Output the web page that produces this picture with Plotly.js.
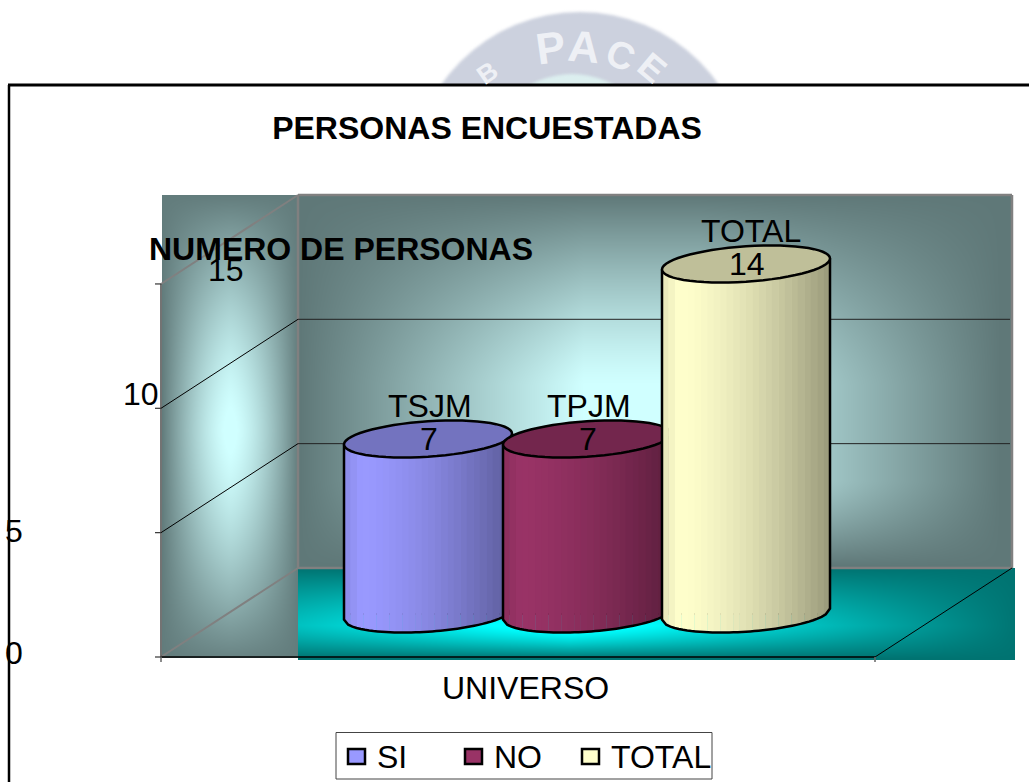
<!DOCTYPE html>
<html>
<head>
<meta charset="utf-8">
<script src="https://cdn.plot.ly/plotly-3.0.1.min.js"></script>
<style>html,body{margin:0;padding:0;background:#fff;overflow:hidden}#chart{width:1029px;height:782px}</style>
</head>
<body>
<div id="chart"></div>
<script>
// ---------- data ----------
var categories = ["UNIVERSO"];
var seriesNames = ["SI", "NO", "TOTAL"];
var seriesLabels = ["TSJM", "TPJM", "TOTAL"];
var seriesValues = [7, 7, 14];
var seriesColors = ["#9999FF", "#993366", "#FFFFCC"];
var tickValues = [0, 5, 10, 15];
var gridValues = [5, 10];
var chartTitle = "PERSONAS ENCUESTADAS";
var valueTitle = "NUMERO DE PERSONAS";

// ---------- page geometry ----------
var W = 1029, H = 782, ZERO = 614, UNIT = 25;
var WALL_UNIT = 24.87, FRONT0 = 657, BACK0 = 568;
var FX = 161, BX = 298, RX = 1011, FRX = 875;
var pxY = function (p) { return (ZERO - p) / UNIT; };
var paperX = function (p) { return p / W; };
var paperY = function (p) { return 1 - p / H; };

function hex(c) { return [parseInt(c.substr(1,2),16), parseInt(c.substr(3,2),16), parseInt(c.substr(5,2),16)]; }
function shade(c, f) { var r = hex(c); return "rgb(" + r.map(function (v) { return Math.round(v * f); }).join(",") + ")"; }

// ---------- painted backdrop ----------
function backdrop() {
  var cv = document.createElement("canvas"); cv.width = W; cv.height = H;
  var g = cv.getContext("2d");
  g.fillStyle = "#fff"; g.fillRect(0, 0, W, H);
  // seal behind the frame
  g.filter = "blur(1.5px)";
  g.fillStyle = "#ccd1de"; g.beginPath(); g.arc(580, 181, 169, 0, 7); g.fill();
  g.fillStyle = "#dcefef"; g.beginPath(); g.arc(572, 160, 86, 0, 7); g.fill();
  g.filter = "none";
  g.fillStyle = "#fff"; g.fillRect(9, 85, W, H);
  var im = g.getImageData(0, 0, W, H), d = im.data;
  function put(x, y, a, b, f) {
    f = Math.max(0, Math.min(1, f));
    var i = (y * W + x) * 4;
    for (var k = 0; k < 3; k++) d[i + k] = a[k] + (b[k] - a[k]) * f;
    d[i + 3] = 255;
  }
  function fall(t) { return Math.max(0, 1 - Math.pow(Math.min(1, t), 1.3)); }
  var dark = [95, 120, 120], light = [208, 255, 255], fd = [0, 112, 110], fl = [0, 255, 255];
  for (var y = 195; y < 660; y++) {
    for (var x = 162; x < 1015; x++) {
      var tx, ty, f;
      if (x < BX) {
        if (y > 657) continue;
        tx = Math.min(1, Math.abs(x - 230) / 68); ty = Math.min(1, Math.abs(y - 430) / 235);
        f = (1 - Math.pow(tx, 1.5)) * (1 - Math.pow(ty, 1.5));
        put(x, y, dark, light, f + 0.03);
      } else if (y >= BACK0) {
        tx = Math.abs(x - 570) / (x < 570 ? 520 : 450);
        ty = y < 625 ? (625 - y) / 57 : (y - 625) / 33;
        f = Math.max(0, 1.15 * (1 - tx)) * fall(ty);
        put(x, y, fd, fl, f + 0.02);
      } else if (x < RX + 2) {
        tx = Math.abs(x - 640) / (x < 640 ? 340 : 360);
        var gy = y < 385 ? fall((385 - y) / 190) : (y < 480 ? 1 : fall((y - 480) / 85));
        f = Math.min(1, 1.2 * Math.max(0, 1 - tx)) * gy;
        put(x, y, dark, light, f);
      }
    }
  }
  g.putImageData(im, 0, 0);
  return cv.toDataURL("image/png");
}

// ---------- cylinders ----------
var BAR_W = 168, PITCH = 159, MID = 587;
var A = BAR_W / 2, B = 17.7 / UNIT, S = 5.5 / UNIT;
function centre(i) { return MID + (i - 1) * PITCH; }
function lowerEdge(u) { return S * u - B * Math.sqrt(Math.max(0, 1 - u * u)); }
function ellipsePath(cx, cy) {
  var p = [];
  for (var k = 0; k < 60; k++) {
    var t = k / 60 * 2 * Math.PI;
    p.push((k ? "L" : "M") + (cx + A * Math.cos(t)).toFixed(2) + "," + (cy + S * Math.cos(t) + B * Math.sin(t)).toFixed(3));
  }
  return p.join(" ") + " Z";
}
function lightFactor(u) { return u < 0.1 ? 0.9 + u : 1 - 0.4 * Math.pow((u - 0.1) / 0.9, 1.5); }

var cylShapes = [];
seriesValues.forEach(function (v, i) {
  var cx = centre(i), n = 26, col = seriesColors[i];
  for (var k = 0; k < n; k++) {
    var u0 = k / n, u1 = (k + 1) / n, x0 = cx - A + BAR_W * u0, x1 = cx - A + BAR_W * u1 + 0.4;
    var a0 = -1 + 2 * u0, a1 = Math.min(1, -1 + 2 * u1);
    cylShapes.push({type: "path", layer: "above", xref: "x", yref: "y", line: {width: 0},
      fillcolor: shade(col, lightFactor((u0 + u1) / 2)),
      path: "M" + x0 + "," + (v + S * a0) + " L" + x1 + "," + (v + S * a1) + " L" + x1 + "," + lowerEdge(a1) + " L" + x0 + "," + lowerEdge(a0) + " Z"});
  }
  var o = ["M" + (cx - A) + "," + (v - S)];
  for (var j = 0; j <= 40; j++) { var w = -1 + 2 * j / 40; o.push("L" + (cx + A * w).toFixed(2) + "," + lowerEdge(w).toFixed(3)); }
  o.push("L" + (cx + A) + "," + (v + S));
  cylShapes.push({type: "path", layer: "above", xref: "x", yref: "y", line: {color: "#000", width: 2.5}, path: o.join(" ")});
  cylShapes.push({type: "path", layer: "above", xref: "x", yref: "y", line: {color: "#000", width: 2.5},
    fillcolor: shade(col, 0.75), path: ellipsePath(cx, v)});
});

// ---------- walls, grid, axis ----------
function seg(x0, p0, x1, p1, color, width, layer) {
  return {type: "line", layer: layer || "below", xref: "x", yref: "y", x0: x0, x1: x1, y0: pxY(p0), y1: pxY(p1), line: {color: color, width: width}};
}
function box(x0, p0, x1, p1, fill, color, width) {
  return {type: "rect", layer: "above", xref: "x", yref: "y", x0: x0, x1: x1, y0: pxY(p0), y1: pxY(p1), fillcolor: fill, line: {color: color, width: width}};
}
var lineShapes = [
  seg(BX, 195, BX, BACK0, "#808080", 2.5),
  seg(BX, 195, RX + 1, 195, "#808080", 2.5),
  seg(RX + 1, 195, RX + 1, BACK0, "#808080", 2.5),
  seg(BX, BACK0, RX + 1, BACK0, "#808080", 2.5),
  seg(FX, 284, BX, 195, "#808080", 2),
  seg(FX, FRONT0, BX, BACK0, "#808080", 2),
  seg(FRX, FRONT0, RX + 1, BACK0, "#000", 1),
  seg(FX, FRONT0, FRX, FRONT0, "#000", 1.5),
  seg(FX, 284, FX, FRONT0, "#444", 1.5),
  seg(FX, FRONT0, FX, 662, "#666", 1.5),
  seg(FRX, FRONT0, FRX, 662, "#666", 1.5),
  seg(9, 85, 9, H, "#000", 2.5),
  seg(8, 85, W, 85, "#000", 3)
];
gridValues.forEach(function (v) {
  var f = FRONT0 - v * WALL_UNIT, b = BACK0 - v * WALL_UNIT;
  lineShapes.push(seg(FX, f, BX, b, "#000", 1));
  lineShapes.push(seg(BX, b, RX - 1, b, "#222", 1));
});
tickValues.forEach(function (v) {
  var f = FRONT0 - v * WALL_UNIT;
  lineShapes.push(seg(FX - 6, f, FX, f, "#333", 1.2));
});

// ---------- text ----------
var BIG = 32;
var FONT = "Liberation Sans, Arial, sans-serif";
var tickPos = [[14, 653], [14, 531], [141, 394], [226, 270]];
var ann = [];
function label(text, x, y, size, bold, color, angle, anchor) {
  ann.push({text: bold ? "<b>" + text + "</b>" : text, xref: "paper", yref: "paper", x: paperX(x), y: paperY(y),
    xanchor: anchor || "center", yanchor: "middle", showarrow: false, textangle: angle || 0,
    font: {family: FONT, size: size, color: color || "#000"}});
}
tickValues.forEach(function (v, i) { label(String(v), tickPos[i][0], tickPos[i][1], BIG); });
label(valueTitle, 341, 249, 32, true);
label(categories[0], 525, 688, BIG);
seriesValues.forEach(function (v, i) {
  var cx = centre(i);
  ann.push({text: seriesLabels[i], xref: "x", yref: "y", x: cx + (i === 2 ? 5 : 2), y: v + 33 / UNIT, xanchor: "center", yanchor: "middle", showarrow: false,
    font: {family: FONT, size: BIG, color: "#000"}});
  ann.push({text: String(v), xref: "x", yref: "y", x: cx + 1, y: v, xanchor: "center", yanchor: "middle", showarrow: false,
    font: {family: FONT, size: BIG, color: "#000"}});
});
[["P", 550, 48, -8, 44], ["A", 584, 46, 5, 44], ["C", 620, 55, 22, 38], ["E", 652, 68, 40, 36], ["B", 487, 73, -35, 26]].forEach(function (c) {
  label(c[0], c[1], c[2], c[4], true, "#eef0f5", c[3]);
});

// ---------- legend ----------
var legendShapes = [box(336, 732.5, 712, 779, "#fff", "#444", 1)];
[347, 464, 581].forEach(function (sx, i) {
  legendShapes.push(box(sx + 1, 749, sx + 18, 764, seriesColors[i], "#000", 2.5));
  label(seriesNames[i], sx + 28, 757, 32, false, "#000", 0, "left");
});

// ---------- plot ----------
var traces = seriesValues.map(function (v, i) {
  return {type: "bar", name: seriesNames[i], x: [centre(i)], y: [v], width: [BAR_W - 8],
    marker: {color: seriesColors[i], line: {color: "#000", width: 2}}, hoverinfo: "name+y", showlegend: false};
});

var layout = {
  width: W, height: H, autosize: false,
  margin: {l: 0, r: 0, t: 0, b: 0, pad: 0, autoexpand: false},
  paper_bgcolor: "rgba(0,0,0,0)", plot_bgcolor: "rgba(0,0,0,0)",
  barmode: "overlay",
  title: {text: "<b>" + chartTitle + "</b>", x: paperX(487), y: paperY(128), xanchor: "center", yanchor: "middle", xref: "paper", yref: "paper",
    font: {family: FONT, size: 32, color: "#000"}},
  xaxis: {range: [0, W], visible: false, fixedrange: true},
  yaxis: {range: [pxY(H), pxY(0)], visible: false, fixedrange: true},
  showlegend: false,
  images: [{source: backdrop(), xref: "paper", yref: "paper", x: 0, y: 1, sizex: 1, sizey: 1, xanchor: "left", yanchor: "top", sizing: "stretch", layer: "below"}],
  shapes: lineShapes.concat(cylShapes, legendShapes),
  annotations: ann
};
Plotly.newPlot("chart", traces, layout, {displayModeBar: false, responsive: false});
</script>
</body>
</html>
